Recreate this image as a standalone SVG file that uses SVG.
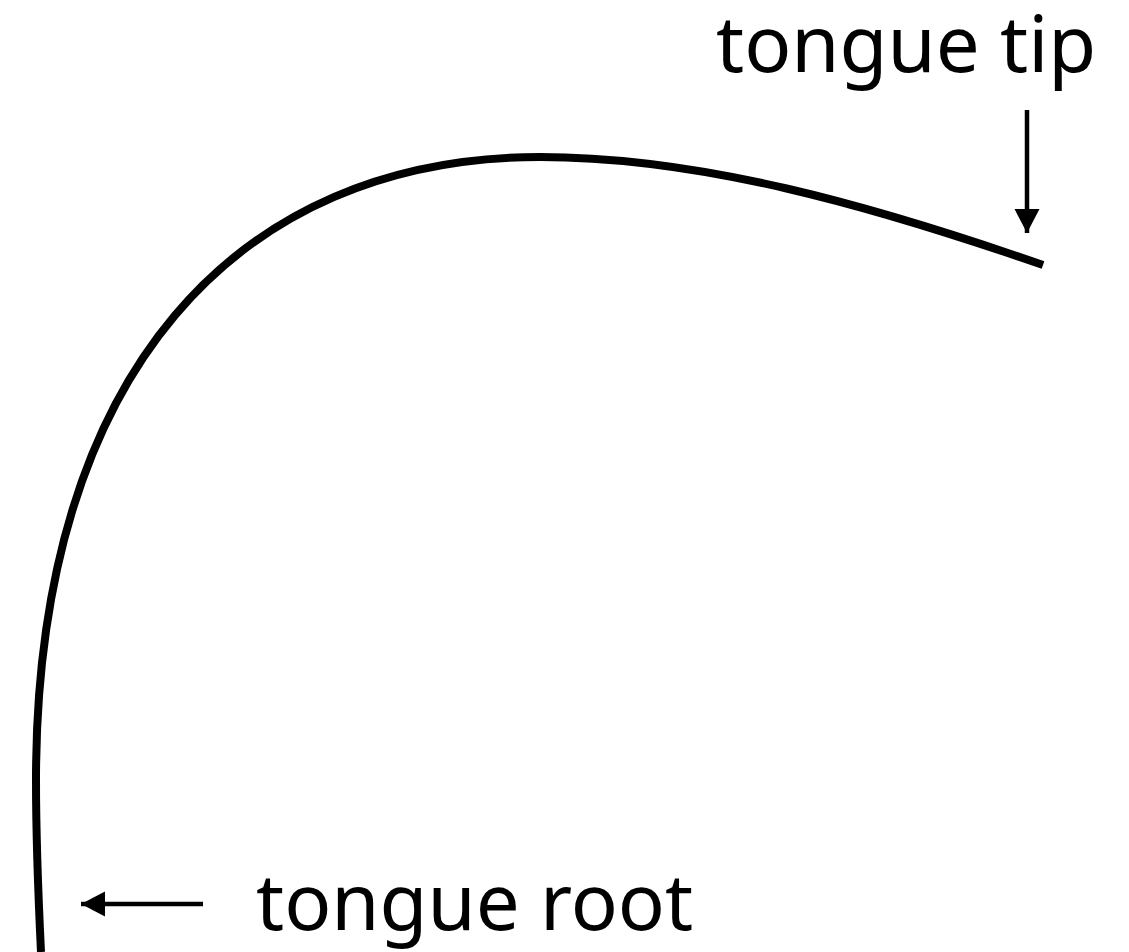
<svg xmlns="http://www.w3.org/2000/svg" width="1129" height="952" viewBox="0 0 1129 952">
<style>
.lbl{font-family:"Noto Sans","Open Sans",sans-serif;font-size:78px;fill:#000}
.arr{stroke:#000;stroke-width:4.5;fill:none}
</style>
<defs>
<marker id="ah" markerUnits="userSpaceOnUse" markerWidth="26" markerHeight="26" refX="24" refY="12.5" orient="auto">
<path d="M0,0 L24,12.5 L0,25 Z" fill="#000"/>
</marker>
</defs>
<rect width="1129" height="952" fill="#fff"/>
<g id="tongue">
<path d="M41,952 C38,890 36,830 36,780 C36,371 239,157 540,157 C700,157 870,205 1043,265" fill="none" stroke="#000" stroke-width="8"/>
</g>
<g id="connectors">
<line class="arr" x1="1027" y1="110" x2="1027" y2="233" marker-end="url(#ah)"/>
<line class="arr" x1="203" y1="904" x2="81" y2="904" marker-end="url(#ah)"/>
</g>
<g id="label-tip"><text class="lbl" x="716" y="72">tongue tip</text></g>
<g id="label-root"><text class="lbl" x="256" y="930">tongue root</text></g>
</svg>
